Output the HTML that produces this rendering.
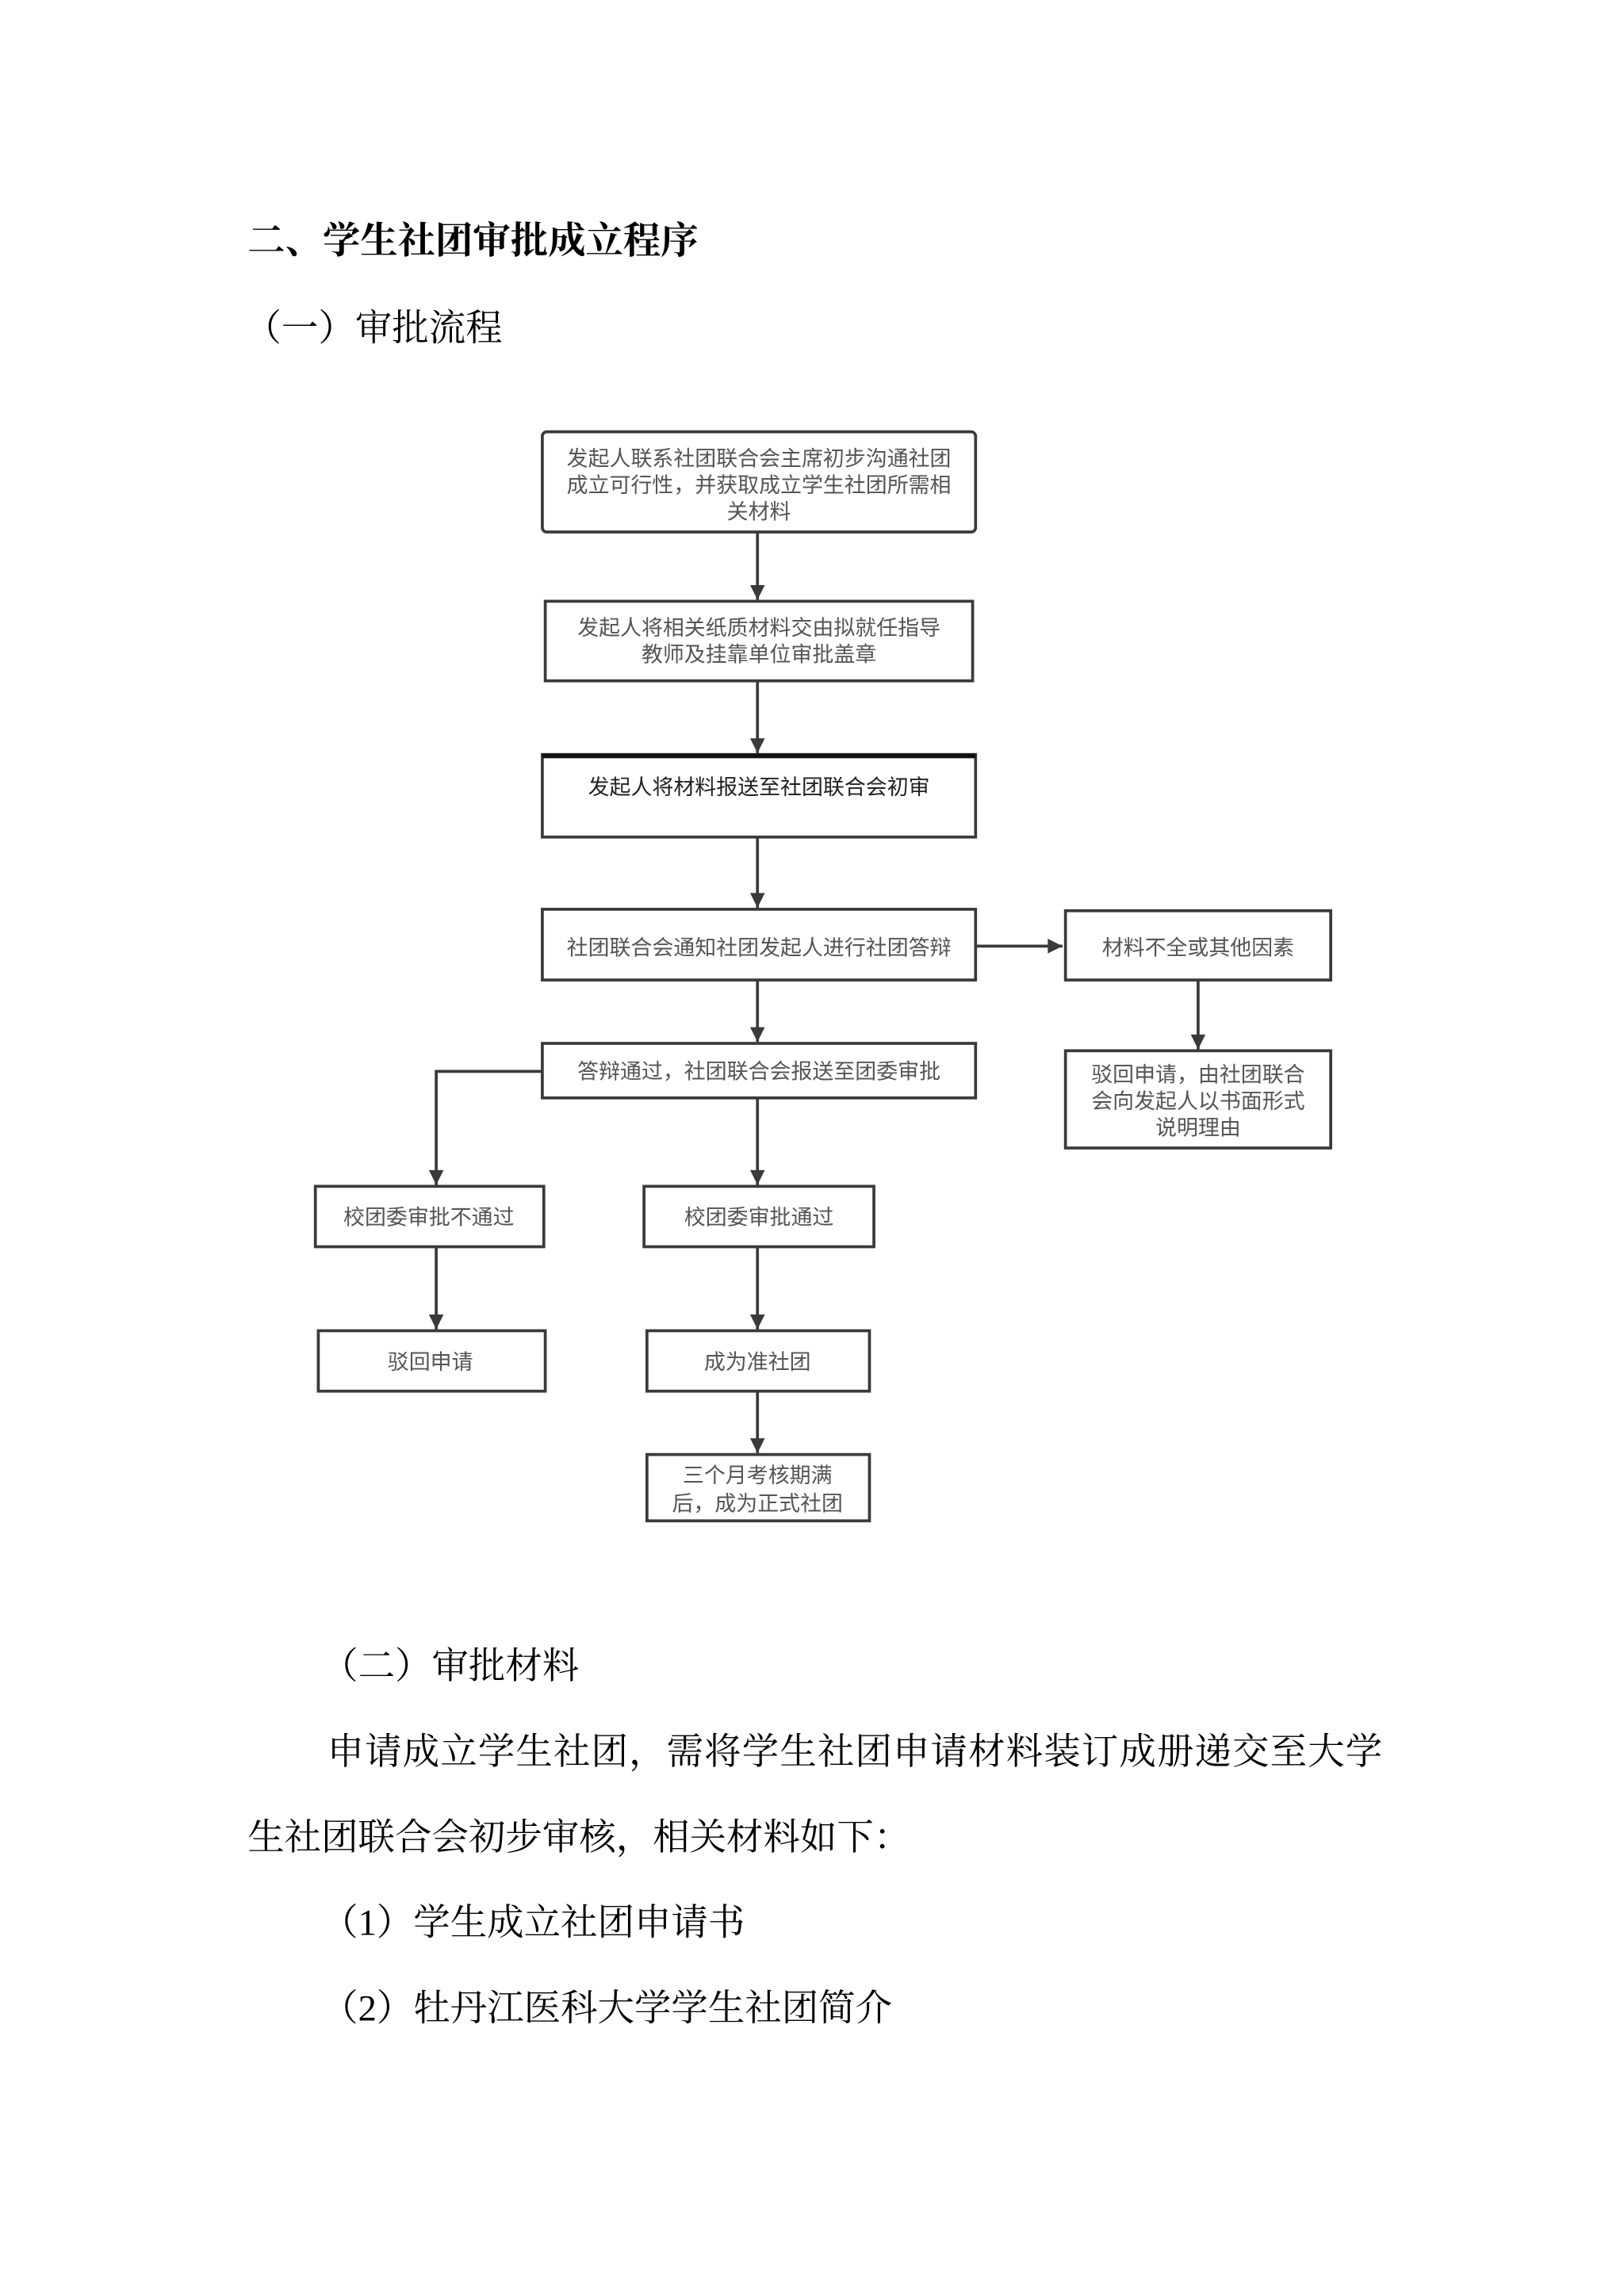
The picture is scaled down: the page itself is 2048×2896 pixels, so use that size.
<!DOCTYPE html>
<html><head><meta charset="utf-8"><style>
html,body{margin:0;padding:0;background:#fff}
svg{display:block}
.s{font-family:"Liberation Serif","Noto Serif CJK SC",serif;fill:#000}
.f{font-family:"Liberation Sans","Noto Sans CJK SC",sans-serif;fill:#555;font-size:14.5px;text-anchor:middle}
rect{fill:#fff;stroke:#3a3a3a;stroke-width:2}
line,polyline{stroke:#3a3a3a;stroke-width:2;fill:none}
</style></head><body>
<svg width="2048" height="2896" viewBox="0 0 1102 1558" preserveAspectRatio="none" xmlns="http://www.w3.org/2000/svg">
<defs><marker id="a" viewBox="0 0 10 10" refX="10" refY="5" markerWidth="11" markerHeight="10" orient="auto" markerUnits="userSpaceOnUse"><path d="M0,0 L10,5 L0,10 z" fill="#3a3a3a"/></marker></defs>
<text class="s" x="168" y="172" font-size="25.5" font-weight="bold" font-family="Noto Sans CJK SC,sans-serif">二、学生社团审批成立程序</text>
<text class="s" x="166" y="231" font-size="25">（一）审批流程</text>

<rect x="368" y="293" width="294" height="68" rx="3"/>
<text class="f" x="515" y="316">发起人联系社团联合会主席初步沟通社团</text>
<text class="f" x="515" y="334">成立可行性，并获取成立学生社团所需相</text>
<text class="f" x="515" y="352">关材料</text>
<line x1="514" y1="361" x2="514" y2="407" marker-end="url(#a)"/>
<rect x="370" y="408" width="290" height="54"/>
<text class="f" x="515" y="431">发起人将相关纸质材料交由拟就任指导</text>
<text class="f" x="515" y="449">教师及挂靠单位审批盖章</text>
<line x1="514" y1="462" x2="514" y2="511" marker-end="url(#a)"/>
<rect x="368" y="512" width="294" height="56"/>
<line x1="368" y1="513" x2="662" y2="513" style="stroke-width:3;stroke:#111"/>
<text class="f" x="515" y="539" style="fill:#222">发起人将材料报送至社团联合会初审</text>
<line x1="514" y1="568" x2="514" y2="616" marker-end="url(#a)"/>
<rect x="368" y="617" width="294" height="48"/>
<text class="f" x="515" y="648">社团联合会通知社团发起人进行社团答辩</text>
<line x1="662" y1="642" x2="721" y2="642" marker-end="url(#a)"/>
<rect x="723" y="618" width="180" height="47"/>
<text class="f" x="813" y="648">材料不全或其他因素</text>
<line x1="813" y1="665" x2="813" y2="712" marker-end="url(#a)"/>
<rect x="723" y="713" width="180" height="66"/>
<text class="f" x="813" y="734">驳回申请，由社团联合</text>
<text class="f" x="813" y="752">会向发起人以书面形式</text>
<text class="f" x="813" y="770">说明理由</text>
<line x1="514" y1="665" x2="514" y2="707" marker-end="url(#a)"/>
<rect x="368" y="708" width="294" height="37"/>
<text class="f" x="515" y="732">答辩通过，社团联合会报送至团委审批</text>
<polyline points="368,727 296,727 296,804" marker-end="url(#a)"/>
<line x1="514" y1="745" x2="514" y2="804" marker-end="url(#a)"/>
<rect x="214" y="805" width="155" height="41"/>
<text class="f" x="291" y="831">校团委审批不通过</text>
<rect x="437" y="805" width="156" height="41"/>
<text class="f" x="515" y="831">校团委审批通过</text>
<line x1="296" y1="846" x2="296" y2="902" marker-end="url(#a)"/>
<line x1="514" y1="846" x2="514" y2="902" marker-end="url(#a)"/>
<rect x="216" y="903" width="154" height="41"/>
<text class="f" x="292" y="929">驳回申请</text>
<rect x="439" y="903" width="151" height="41"/>
<text class="f" x="514" y="929">成为准社团</text>
<line x1="514" y1="944" x2="514" y2="986" marker-end="url(#a)"/>
<rect x="439" y="987" width="151" height="45"/>
<text class="f" x="514" y="1006">三个月考核期满</text>
<text class="f" x="514" y="1025">后，成为正式社团</text>

<text class="s" x="218" y="1139" font-size="25">（二）审批材料</text>
<text class="s" x="222" y="1197" font-size="25" textLength="716">申请成立学生社团，需将学生社团申请材料装订成册递交至大学</text>
<text class="s" x="168" y="1255" font-size="25">生社团联合会初步审核，相关材料如下：</text>
<text class="s" x="218" y="1313" font-size="25">（1）学生成立社团申请书</text>
<text class="s" x="218" y="1371" font-size="25">（2）牡丹江医科大学学生社团简介</text>
</svg>
</body></html>
